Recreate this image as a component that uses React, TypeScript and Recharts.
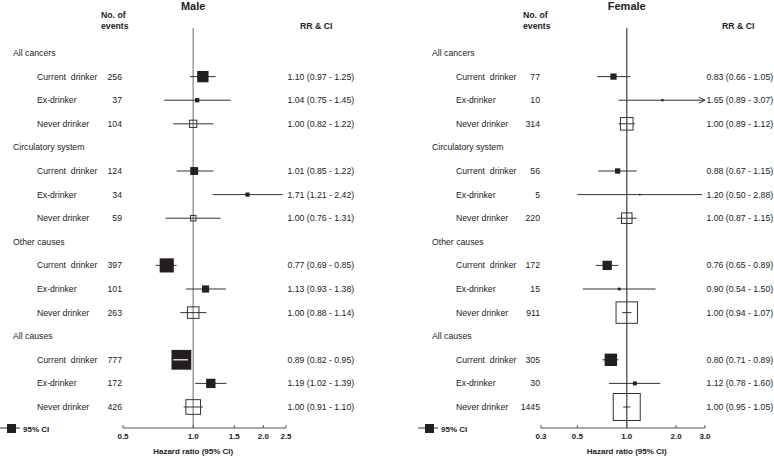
import { ComposedChart, Scatter, XAxis, YAxis, ReferenceLine, Label } from "recharts";

const FONT = "'Liberation Sans', Arial, Helvetica, sans-serif";

const groups = ["All cancers", "Circulatory system", "Other causes", "All causes"];
const exposures = ["Current  drinker", "Ex-drinker", "Never drinker"];

const maleEvents = [256, 37, 104, 124, 34, 59, 397, 101, 263, 777, 172, 426];
const maleRR = [1.1, 1.04, 1.0, 1.01, 1.71, 1.0, 0.77, 1.13, 1.0, 0.89, 1.19, 1.0];
const maleLow = [0.97, 0.75, 0.82, 0.85, 1.21, 0.76, 0.69, 0.93, 0.88, 0.82, 1.02, 0.91];
const maleHigh = [1.25, 1.45, 1.22, 1.22, 2.42, 1.31, 0.85, 1.38, 1.14, 0.95, 1.39, 1.1];

const femaleEvents = [77, 10, 314, 56, 5, 220, 172, 15, 911, 305, 30, 1445];
const femaleRR = [0.83, 1.65, 1.0, 0.88, 1.2, 1.0, 0.76, 0.9, 1.0, 0.8, 1.12, 1.0];
const femaleLow = [0.66, 0.89, 0.89, 0.67, 0.5, 0.87, 0.65, 0.54, 0.94, 0.71, 0.78, 0.95];
const femaleHigh = [1.05, 3.07, 1.12, 1.15, 2.88, 1.15, 0.89, 1.5, 1.07, 0.89, 1.6, 1.05];

const maleTicks = [0.5, 1.0, 1.5, 2.0, 2.5];
const femaleTicks = [0.3, 0.5, 1.0, 2.0, 3.0];

interface Row {
  row: number;
  label: string;
  header: boolean;
  events?: number;
  rr?: number;
  lo?: number;
  hi?: number;
}

function buildRows(events: number[], rr: number[], lo: number[], hi: number[]): Row[] {
  const rows: Row[] = [];
  groups.forEach((g, gi) => {
    rows.push({ row: gi * 4, label: g, header: true });
    exposures.forEach((e, ei) => {
      const i = gi * 3 + ei;
      rows.push({ row: gi * 4 + 1 + ei, label: e, header: false, events: events[i], rr: rr[i], lo: lo[i], hi: hi[i] });
    });
  });
  return rows;
}

const boxSide = (n: number) => Math.max(1.6, 0.71 * Math.sqrt(n));
const fmt = (v: number) => v.toFixed(2);
// never drinkers are the reference group, drawn hollow
const isRef = (r: Row) => r.label.startsWith("Never");

interface PanelProps {
  title: string;
  rows: Row[];
  ticks: number[];
  leftW: number;
  rightW: number;
  groupX: number;
  subX: number;
  refColor: string;
}

function Panel({ title, rows, ticks, leftW, rightW, groupX, subX, refColor }: PanelProps) {
  const dataRows = rows.filter((r) => !r.header);
  const points = dataRows.map((r) => ({ x: r.rr, y: r.row, n: r.events, hollow: isRef(r) }));
  const lo = ticks[0];
  const hi = ticks[ticks.length - 1];
  const byRow = new Map(rows.map((r) => [r.row, r]));

  const LeftTick = ({ x, y, payload }: any) => {
    const r = byRow.get(payload.value);
    if (!r) return <g />;
    const common = { fontFamily: FONT, fontSize: 8.7, fill: "#222", dominantBaseline: "central" as const };
    if (r.header) {
      return (
        <text x={groupX} y={y} {...common}>
          {r.label}
        </text>
      );
    }
    return (
      <g>
        <text x={subX} y={y} {...common} style={{ whiteSpace: "pre" }}>
          {r.label}
        </text>
        <text x={x} y={y} {...common} textAnchor="end">
          {r.events}
        </text>
      </g>
    );
  };

  const RightTick = ({ x, y, payload }: any) => {
    const r = byRow.get(payload.value);
    if (!r || r.header) return <g />;
    return (
      <text x={x} y={y} fontFamily={FONT} fontSize={8.7} fill="#222" dominantBaseline="central" textAnchor="start">
        {`${fmt(r.rr!)} (${fmt(r.lo!)} - ${fmt(r.hi!)})`}
      </text>
    );
  };

  const XTick = ({ x, y, payload }: any) => (
    <g>
      <line x1={x} x2={x} y1={y} y2={y - 3} stroke="#555" />
      <text x={x} y={y + 8} textAnchor="middle" dominantBaseline="central" fontFamily={FONT} fontSize={8} fontWeight="bold" fill="#222">
        {payload.value.toFixed(1)}
      </text>
    </g>
  );

  const ciShape = (clipped: boolean) => (p: any) => (
    <g>
      <line x1={p.x1} y1={p.y1} x2={p.x2} y2={p.y2} stroke="#333" strokeWidth={1} />
      {clipped && (
        <polyline points={`${p.x2 - 6},${p.y2 - 3} ${p.x2},${p.y2} ${p.x2 - 6},${p.y2 + 3}`} fill="none" stroke="#333" strokeWidth={1} />
      )}
    </g>
  );

  // CI narrower than a filled box: drawn in white on top of the box
  const innerShape = (side: number) => (p: any) =>
    Math.abs(p.x2 - p.x1) < side - 2 ? <line x1={p.x1} y1={p.y1} x2={p.x2} y2={p.y2} stroke="#fff" strokeWidth={1.2} /> : <g />;

  const BoxShape = ({ cx, cy, payload }: any) => {
    const s = boxSide(payload.n);
    return payload.hollow ? (
      <rect x={cx - s / 2} y={cy - s / 2} width={s} height={s} fill="none" stroke="#333" strokeWidth={1} />
    ) : (
      <rect x={cx - s / 2} y={cy - s / 2} width={s} height={s} fill="#231f20" />
    );
  };

  return (
    <ComposedChart width={387} height={456} margin={{ top: 28, right: 0, bottom: 0, left: 0 }}>
      <XAxis
        dataKey="x"
        type="number"
        scale="log"
        domain={[lo, hi]}
        ticks={ticks}
        interval={0}
        allowDataOverflow
        height={28}
        tickSize={0}
        tickMargin={0}
        tickLine={false}
        axisLine={{ stroke: "#555" }}
        tick={<XTick />}
      />
      <YAxis
        yAxisId="left"
        dataKey="y"
        type="number"
        domain={[-1.06, 15.89]}
        reversed
        allowDataOverflow
        ticks={rows.map((r) => r.row)}
        interval={0}
        width={leftW}
        tickSize={0}
        tickMargin={1}
        axisLine={false}
        tickLine={false}
        tick={<LeftTick />}
      />
      <YAxis
        yAxisId="right"
        orientation="right"
        type="number"
        domain={[-1.06, 15.89]}
        reversed
        allowDataOverflow
        ticks={dataRows.map((r) => r.row)}
        interval={0}
        width={rightW}
        tickSize={0}
        tickMargin={1.5}
        axisLine={false}
        tickLine={false}
        tick={<RightTick />}
      />
      <ReferenceLine yAxisId="left" x={1} stroke={refColor} strokeWidth={1.5} ifOverflow="visible">
        <Label position="top" offset={18} value={title} fontFamily={FONT} fontSize={11} fontWeight="bold" fill="#222" />
        <Label position="bottom" offset={20} value="Hazard ratio (95% CI)" fontFamily={FONT} fontSize={8} fontWeight="bold" fill="#222" />
      </ReferenceLine>
      {dataRows.map((r) => (
        <ReferenceLine
          key={`ci-${r.row}`}
          yAxisId="left"
          ifOverflow="visible"
          segment={[
            { x: r.lo!, y: r.row },
            { x: Math.min(r.hi!, hi), y: r.row },
          ]}
          shape={ciShape(r.hi! > hi)}
        />
      ))}
      <Scatter yAxisId="left" data={points} shape={<BoxShape />} isAnimationActive={false} />
      {dataRows
        .filter((r) => !isRef(r))
        .map((r) => (
          <ReferenceLine
            key={`in-${r.row}`}
            yAxisId="left"
            ifOverflow="visible"
            zIndex={900}
            segment={[
              { x: r.lo!, y: r.row },
              { x: Math.min(r.hi!, hi), y: r.row },
            ]}
            shape={innerShape(boxSide(r.events!))}
          />
        ))}
    </ComposedChart>
  );
}

const headStyle = { position: "absolute" as const, fontFamily: FONT, fontSize: 8.7, fontWeight: "bold" as const, color: "#222" };

function LegendKey({ left }: { left: number }) {
  return (
    <svg style={{ position: "absolute", left, top: 419 }} width={60} height={18}>
      <line x1={0} x2={20} y1={9} y2={9} stroke="#333" />
      <rect x={7} y={5} width={9} height={9} fill="#231f20" />
      <text x={23} y={10} dominantBaseline="central" fontFamily={FONT} fontSize={8} fontWeight="bold" fill="#222">
        95% CI
      </text>
    </svg>
  );
}

export default function App() {
  const maleRows = buildRows(maleEvents, maleRR, maleLow, maleHigh);
  const femaleRows = buildRows(femaleEvents, femaleRR, femaleLow, femaleHigh);
  return (
    <div style={{ position: "absolute", left: 0, top: 0, width: 774, height: 456, background: "#fff", overflow: "hidden" }}>
      <div style={{ position: "absolute", left: 0, top: 0 }}>
        <Panel title="Male" rows={maleRows} ticks={maleTicks} leftW={123} rightW={101} groupX={13} subX={37} refColor="#999" />
      </div>
      <div style={{ position: "absolute", left: 387, top: 0 }}>
        <Panel title="Female" rows={femaleRows} ticks={femaleTicks} leftW={154} rightW={69} groupX={45} subX={69} refColor="#666" />
      </div>
      <div style={{ ...headStyle, left: 101, top: 10, lineHeight: "10.7px" }}>
        No. of
        <br />
        events
      </div>
      <div style={{ ...headStyle, left: 523, top: 10, lineHeight: "10.7px" }}>
        No. of
        <br />
        events
      </div>
      <div style={{ ...headStyle, left: 300, top: 21 }}>RR &amp; CI</div>
      <div style={{ ...headStyle, left: 722, top: 21 }}>RR &amp; CI</div>
      <LegendKey left={0} />
      <LegendKey left={418} />
    </div>
  );
}
